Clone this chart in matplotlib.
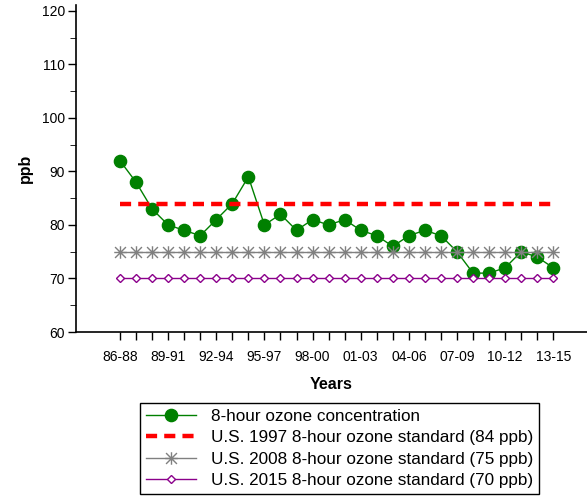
import numpy as np
import matplotlib
matplotlib.use("Agg")
import matplotlib.pyplot as plt
from matplotlib.path import Path
from matplotlib.ticker import MultipleLocator

plt.rcParams['font.family'] = ['Liberation Sans', 'DejaVu Sans']

# 3-year periods, 86-88 ... 13-15
periods = ['86-88', '87-89', '88-90', '89-91', '90-92', '91-93', '92-94',
           '93-95', '94-96', '95-97', '96-98', '97-99', '98-00', '99-01',
           '00-02', '01-03', '02-04', '03-05', '04-06', '05-07', '06-08',
           '07-09', '08-10', '09-11', '10-12', '11-13', '12-14', '13-15']
ozone = [92, 88, 83, 80, 79, 78, 81, 84, 89, 80, 82, 79, 81, 80,
         81, 79, 78, 76, 78, 79, 78, 75, 71, 71, 72, 75, 74, 72]
std_1997 = 84
std_2008 = 75
std_2015 = 70

labels = ['8-hour ozone concentration',
          'U.S. 1997 8-hour ozone standard (84 ppb)',
          'U.S. 2008 8-hour ozone standard (75 ppb)',
          'U.S. 2015 8-hour ozone standard (70 ppb)']

x = np.arange(len(periods))

# asterisk marker: vertical, horizontal and two diagonals
star = Path([(0, -1), (0, 1), (-0.87, -0.87), (0.87, 0.87), (-0.87, 0.87), (0.87, -0.87),
             (-1, 0), (1, 0)],
            [Path.MOVETO, Path.LINETO, Path.MOVETO, Path.LINETO, Path.MOVETO, Path.LINETO,
             Path.MOVETO, Path.LINETO])

fig = plt.figure(figsize=(5.87, 4.96), dpi=100)
ax = fig.add_axes([76 / 587, 1 - 332 / 496, 1 - 76 / 587, (332 - 5) / 496])

h1, = ax.plot(x, ozone, color='#008000', lw=1, marker='o', markersize=8.8,
              markeredgecolor='#008000', label=labels[0])
h2, = ax.plot(x, [std_1997] * len(x), color='#ff0000', lw=3.2,
              linestyle=(0, (2.5, 1.6)), label=labels[1])
h3, = ax.plot(x, [std_2008] * len(x), color='#808080', lw=1, marker=star,
              markersize=9, markeredgewidth=1, label=labels[2])
h4, = ax.plot(x, [std_2015] * len(x), color='#8b008b', lw=1, marker='D',
              markersize=4, markerfacecolor='white', markeredgecolor='#8b008b',
              markeredgewidth=1, label=labels[3])

ax.set_xlim(-2.74, 29.1)
ax.set_ylim(60, 121.1)
ax.yaxis.set_minor_locator(MultipleLocator(5))
ax.set_yticks([60, 70, 80, 90, 100, 110, 120])
ax.set_xticks(x)
ax.set_xticklabels([p if i % 3 == 0 else '' for i, p in enumerate(periods)])
ax.tick_params(axis='both', labelsize=10, direction='out', width=1, color='black')
ax.tick_params(axis='x', length=6, pad=7)
ax.tick_params(axis='y', which='major', length=6, pad=2)
ax.tick_params(axis='y', which='minor', length=4)

for s in ['top', 'right']:
    ax.spines[s].set_visible(False)
for s in ['left', 'bottom']:
    ax.spines[s].set_linewidth(1.2)

ax.set_ylabel('ppb', fontsize=11.5, fontweight='bold', labelpad=6)
ax.set_xlabel('Years', fontsize=11.5, fontweight='bold', labelpad=9)

leg = fig.legend(handles=[h1, h2, h3, h4], loc='lower left',
                 bbox_to_anchor=(140 / 587, 2 / 496), fontsize=12.3,
                 frameon=True, fancybox=False, edgecolor='black', framealpha=1,
                 handlelength=2.9, handletextpad=0.9, labelspacing=0.38,
                 borderpad=0.35, borderaxespad=0)
leg.get_frame().set_linewidth(1)

fig.savefig('out.png', dpi=100)
